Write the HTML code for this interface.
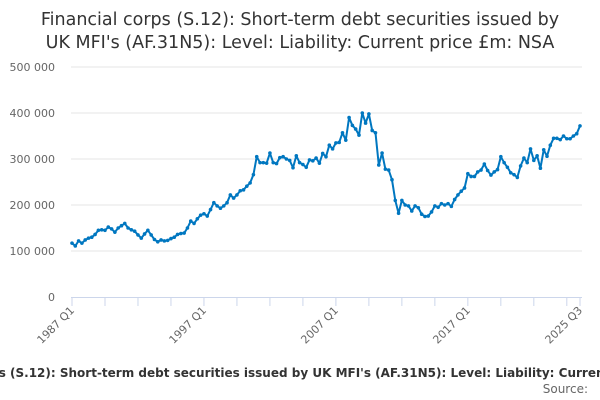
<!DOCTYPE html>
<html><head><meta charset="utf-8">
<style>
html,body{margin:0;padding:0;background:#fff;width:600px;height:400px;overflow:hidden}
svg{display:block;font-family:"DejaVu Sans","Liberation Sans",sans-serif}
</style></head>
<body>
<svg id="chart" width="600" height="400" viewBox="0 0 600 400">
  <text x="300" y="25" text-anchor="middle" font-size="17.5" fill="#333">Financial corps (S.12): Short-term debt securities issued by</text>
  <text x="300" y="48" text-anchor="middle" font-size="17.5" fill="#333">UK MFI's (AF.31N5): Level: Liability: Current price £m: NSA</text>
  <g id="grid"></g>
  <g id="yaxis"></g>
  <g id="xaxis"></g>
  <g id="series"></g>
  <text x="307" y="377" text-anchor="middle" font-size="12" font-weight="bold" fill="#333">Financial corps (S.12): Short-term debt securities issued by UK MFI's (AF.31N5): Level: Liability: Current price £m: NSA</text>
  <text x="588" y="393" text-anchor="end" font-size="12" fill="#666">Source:</text>
</svg>
<script>
const yTicks = [0, 100000, 200000, 300000, 400000, 500000];
const yTickLabels = ["0", "100 000", "200 000", "300 000", "400 000", "500 000"];
const xLabelIndex = [0, 40, 80, 120, 154];
const xLabels = ["1987 Q1", "1997 Q1", "2007 Q1", "2017 Q1", "2025 Q3"];
const valuesK = [117,111,122,117,124,128,130,136,145,146,145,152,148,141,150,155,160,150,146,143,
135,128,137,145,135,125,120,124,122,123,127,130,136,138,139,150,165,160,170,178,
181,176,190,205,198,193,198,205,222,215,222,231,233,241,248,266,305,292,292,291,
313,292,290,303,305,300,297,281,307,292,288,282,298,296,302,291,312,305,330,322,
335,336,357,341,390,373,365,352,400,378,398,362,357,287,313,278,276,255,210,182,
210,200,198,187,198,194,180,175,176,185,198,195,203,200,203,197,212,222,230,237,
268,262,262,272,276,289,275,265,272,277,305,292,282,270,266,260,285,302,292,322,
297,307,280,320,306,330,345,345,342,350,344,344,350,355,372];
const values = valuesK.map(v => v * 1000);

const NS = "http://www.w3.org/2000/svg";
const X0 = 72, X1 = 580, Y0 = 297, Y1 = 67, YMAX = 500000;
const n = values.length;
function xPos(i){ return X0 + (X1 - X0) * i / (n - 1); }
function yPos(v){ return Y0 - (Y0 - Y1) * v / YMAX; }
function mk(tag, attrs, parent){ const e = document.createElementNS(NS, tag); for (const k in attrs) e.setAttribute(k, attrs[k]); parent.appendChild(e); return e; }

const grid = document.getElementById('grid');
const yaxis = document.getElementById('yaxis');
yTicks.forEach((t, i) => {
  if (t > 0) {
    const l = mk('line', {x1: 71, x2: 582, y1: yPos(t), y2: yPos(t), stroke: '#e6e6e6', 'stroke-width': 1}, grid);
    
    
  }
  const tx = mk('text', {x: 55, y: yPos(t) + 4, 'text-anchor': 'end', 'font-size': 11, fill: '#666'}, yaxis);
  tx.textContent = yTickLabels[i];
  
  
});

const xaxis = document.getElementById('xaxis');
const axl = mk('line', {x1: 71, x2: 582, y1: Y0 + 0.5, y2: Y0 + 0.5, stroke: '#ccd6eb', 'stroke-width': 1}, xaxis);


for (let i = 0; i < n; i += 10) {
  const tk = mk('line', {x1: xPos(i), x2: xPos(i), y1: Y0, y2: Y0 + 9, stroke: '#ccd6eb', 'stroke-width': 1}, xaxis);
  
  
}
const lastTick = mk('line', {x1: xPos(n - 1), x2: xPos(n - 1), y1: Y0, y2: Y0 + 9, stroke: '#ccd6eb', 'stroke-width': 1}, xaxis);


xLabelIndex.forEach((idx, i) => {
  const x = xPos(idx) + 3, y = Y0 + 14;
  const tx = mk('text', {x: x, y: y, 'text-anchor': 'end', 'font-size': 11, fill: '#666', transform: `rotate(-45 ${x} ${y})`}, xaxis);
  tx.textContent = xLabels[i];
  
  
});

const series = document.getElementById('series');
const d = values.map((v, i) => (i ? 'L' : 'M') + xPos(i).toFixed(2) + ' ' + yPos(v).toFixed(2)).join(' ');
const path = mk('path', {d: d, fill: 'none', stroke: '#0077c0', 'stroke-width': 2, 'stroke-linejoin': 'round'}, series);


values.forEach((v, i) => {
  const c = mk('circle', {cx: xPos(i), cy: yPos(v), r: 1.8, fill: '#0077c0'}, series);
  
  
});
</script>
</body></html>
